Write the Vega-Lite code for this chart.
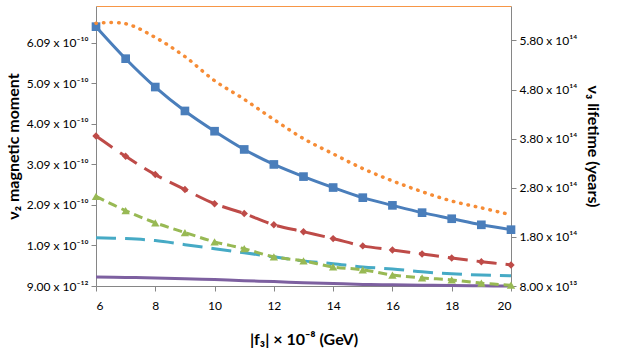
{
  "$schema": "https://vega.github.io/schema/vega-lite/v6.json",
  "width": 415,
  "height": 280,
  "autosize": "none",
  "padding": {"left": 96, "top": 6, "right": 106, "bottom": 72},
  "background": "white",
  "config": {
    "view": {"stroke": null},
    "font": "Lato",
    "axis": {
      "grid": false,
      "domainColor": "#868686",
      "tickColor": "#868686",
      "tickSize": 5,
      "labelColor": "#000000",
      "labelFontSize": 12,
      "labelFont": "Lato",
      "titleColor": "#000000",
      "titleFont": "Lato",
      "titleFontSize": 16,
      "titleFontWeight": "bold"
    }
  },
  "datasets": {
    "main": [
      {"x": 6, "s": "blue", "v": 6.49e-10}, {"x": 7, "s": "blue", "v": 5.70e-10}, {"x": 8, "s": "blue", "v": 5.00e-10},
      {"x": 9, "s": "blue", "v": 4.41e-10}, {"x": 10, "s": "blue", "v": 3.91e-10}, {"x": 11, "s": "blue", "v": 3.46e-10},
      {"x": 12, "s": "blue", "v": 3.09e-10}, {"x": 13, "s": "blue", "v": 2.79e-10}, {"x": 14, "s": "blue", "v": 2.52e-10},
      {"x": 15, "s": "blue", "v": 2.27e-10}, {"x": 16, "s": "blue", "v": 2.08e-10}, {"x": 17, "s": "blue", "v": 1.90e-10},
      {"x": 18, "s": "blue", "v": 1.75e-10}, {"x": 19, "s": "blue", "v": 1.60e-10}, {"x": 20, "s": "blue", "v": 1.48e-10},
      {"x": 6, "s": "red", "v": 3.79e-10}, {"x": 7, "s": "red", "v": 3.29e-10}, {"x": 8, "s": "red", "v": 2.84e-10},
      {"x": 9, "s": "red", "v": 2.47e-10}, {"x": 10, "s": "red", "v": 2.12e-10}, {"x": 11, "s": "red", "v": 1.88e-10},
      {"x": 12, "s": "red", "v": 1.60e-10}, {"x": 13, "s": "red", "v": 1.43e-10}, {"x": 14, "s": "red", "v": 1.26e-10},
      {"x": 15, "s": "red", "v": 1.08e-10}, {"x": 16, "s": "red", "v": 0.98e-10}, {"x": 17, "s": "red", "v": 0.88e-10},
      {"x": 18, "s": "red", "v": 0.78e-10}, {"x": 19, "s": "red", "v": 0.69e-10}, {"x": 20, "s": "red", "v": 0.61e-10},
      {"x": 6, "s": "green", "v": 2.30e-10}, {"x": 7, "s": "green", "v": 1.95e-10}, {"x": 8, "s": "green", "v": 1.65e-10},
      {"x": 9, "s": "green", "v": 1.41e-10}, {"x": 10, "s": "green", "v": 1.18e-10}, {"x": 11, "s": "green", "v": 1.01e-10},
      {"x": 12, "s": "green", "v": 0.81e-10}, {"x": 13, "s": "green", "v": 0.71e-10}, {"x": 14, "s": "green", "v": 0.56e-10},
      {"x": 15, "s": "green", "v": 0.49e-10}, {"x": 16, "s": "green", "v": 0.36e-10}, {"x": 17, "s": "green", "v": 0.29e-10},
      {"x": 18, "s": "green", "v": 0.24e-10}, {"x": 19, "s": "green", "v": 0.16e-10}, {"x": 20, "s": "green", "v": 0.11e-10},
      {"x": 6, "s": "teal", "v": 1.28e-10}, {"x": 7, "s": "teal", "v": 1.26e-10}, {"x": 8, "s": "teal", "v": 1.21e-10},
      {"x": 9, "s": "teal", "v": 1.11e-10}, {"x": 10, "s": "teal", "v": 1.01e-10}, {"x": 11, "s": "teal", "v": 0.91e-10},
      {"x": 12, "s": "teal", "v": 0.81e-10}, {"x": 13, "s": "teal", "v": 0.71e-10}, {"x": 14, "s": "teal", "v": 0.64e-10},
      {"x": 15, "s": "teal", "v": 0.56e-10}, {"x": 16, "s": "teal", "v": 0.51e-10}, {"x": 17, "s": "teal", "v": 0.44e-10},
      {"x": 18, "s": "teal", "v": 0.39e-10}, {"x": 19, "s": "teal", "v": 0.36e-10}, {"x": 20, "s": "teal", "v": 0.34e-10},
      {"x": 6, "s": "purple", "v": 0.31e-10}, {"x": 7, "s": "purple", "v": 0.30e-10}, {"x": 8, "s": "purple", "v": 0.29e-10},
      {"x": 9, "s": "purple", "v": 0.27e-10}, {"x": 10, "s": "purple", "v": 0.25e-10}, {"x": 11, "s": "purple", "v": 0.22e-10},
      {"x": 12, "s": "purple", "v": 0.20e-10}, {"x": 13, "s": "purple", "v": 0.17e-10}, {"x": 14, "s": "purple", "v": 0.15e-10},
      {"x": 15, "s": "purple", "v": 0.13e-10}, {"x": 16, "s": "purple", "v": 0.12e-10}, {"x": 17, "s": "purple", "v": 0.11e-10},
      {"x": 18, "s": "purple", "v": 0.10e-10}, {"x": 19, "s": "purple", "v": 0.095e-10}, {"x": 20, "s": "purple", "v": 0.09e-10}
    ],
    "orange": [
      {"x": 6, "v": 6.15e14}, {"x": 7, "v": 6.14e14}, {"x": 8, "v": 5.86e14}, {"x": 9, "v": 5.47e14},
      {"x": 10, "v": 4.98e14}, {"x": 11, "v": 4.60e14}, {"x": 12, "v": 4.19e14}, {"x": 13, "v": 3.80e14},
      {"x": 14, "v": 3.49e14}, {"x": 15, "v": 3.19e14}, {"x": 16, "v": 2.94e14}, {"x": 17, "v": 2.72e14},
      {"x": 18, "v": 2.53e14}, {"x": 19, "v": 2.39e14}, {"x": 20, "v": 2.25e14}
    ]
  },
  "layer": [
    {
      "data": {"name": "main"},
      "encoding": {
        "x": {
          "field": "x", "type": "quantitative",
          "scale": {"domain": [6, 20], "nice": false, "zero": false},
          "axis": {
            "orient": "bottom",
            "values": [6, 8, 10, 12, 14, 16, 18, 20],
            "format": "d",
            "labelPadding": 9,
            "title": "|f₃| × 10⁻⁸ (GeV)",
            "titlePadding": 20
          }
        },
        "y": {
          "field": "v", "type": "quantitative",
          "scale": {"domain": [9e-12, 7.0e-10], "nice": false, "zero": false},
          "axis": {
            "orient": "left",
            "values": [9e-12, 1.09e-10, 2.09e-10, 3.09e-10, 4.09e-10, 5.09e-10, 6.09e-10],
            "labelExpr": "format(datum.value / pow(10, floor(log(datum.value) / LN10)), '.2f') + ' x 10' + (floor(log(datum.value) / LN10) == -10 ? '⁻¹⁰' : '⁻¹²')",
            "labelPadding": 3,
            "title": "ν₂ magnetic moment",
            "titlePadding": 5
          }
        }
      },
      "layer": [
        {
          "transform": [{"filter": "datum.s == 'purple'"}],
          "mark": {"type": "line", "interpolate": "catmull-rom", "color": "#7D60A0", "strokeWidth": 3}
        },
        {
          "transform": [{"filter": "datum.s == 'teal'"}],
          "mark": {"type": "line", "interpolate": "catmull-rom", "color": "#46AAC5", "strokeWidth": 3, "strokeDash": [20, 9]}
        },
        {
          "transform": [{"filter": "datum.s == 'green'"}],
          "mark": {"type": "line", "interpolate": "catmull-rom", "color": "#98B954", "strokeWidth": 3, "strokeDash": [9, 5]}
        },
        {
          "transform": [{"filter": "datum.s == 'green'"}],
          "mark": {"type": "point", "shape": "triangle-up", "filled": true, "size": 70, "color": "#98B954", "opacity": 1}
        },
        {
          "transform": [{"filter": "datum.s == 'red'"}],
          "mark": {"type": "line", "interpolate": "catmull-rom", "color": "#BE4B48", "strokeWidth": 3, "strokeDash": [20, 9]}
        },
        {
          "transform": [{"filter": "datum.s == 'red'"}],
          "mark": {"type": "point", "shape": "diamond", "filled": true, "size": 55, "color": "#BE4B48", "opacity": 1}
        },
        {
          "transform": [{"filter": "datum.s == 'blue'"}],
          "mark": {"type": "line", "interpolate": "catmull-rom", "color": "#4A7EBB", "strokeWidth": 3}
        },
        {
          "transform": [{"filter": "datum.s == 'blue'"}],
          "mark": {"type": "point", "shape": "square", "filled": true, "size": 75, "color": "#4A7EBB", "opacity": 1}
        }
      ]
    },
    {
      "data": {"name": "orange"},
      "mark": {"type": "line", "interpolate": "catmull-rom", "color": "#F68C36", "strokeWidth": 3.5, "strokeDash": [0.5, 7], "strokeCap": "round"},
      "encoding": {
        "x": {
          "field": "x", "type": "quantitative",
          "scale": {"domain": [6, 20], "nice": false, "zero": false},
          "axis": {"orient": "top", "labels": false, "ticks": false, "title": null, "domainColor": "#F79646"}
        },
        "y": {
          "field": "v", "type": "quantitative",
          "scale": {"domain": [8e13, 6.5e14], "nice": false, "zero": false},
          "axis": {
            "orient": "right",
            "values": [8e13, 1.8e14, 2.8e14, 3.8e14, 4.8e14, 5.8e14],
            "labelExpr": "format(datum.value / pow(10, floor(log(datum.value) / LN10)), '.2f') + ' x 10' + (floor(log(datum.value) / LN10) == 13 ? '¹³' : '¹⁴')",
            "labelPadding": 3,
            "title": "ν₃ lifetime (years)",
            "titlePadding": 8
          }
        }
      }
    }
  ],
  "resolve": {"scale": {"y": "independent"}, "axis": {"x": "independent"}}
}
